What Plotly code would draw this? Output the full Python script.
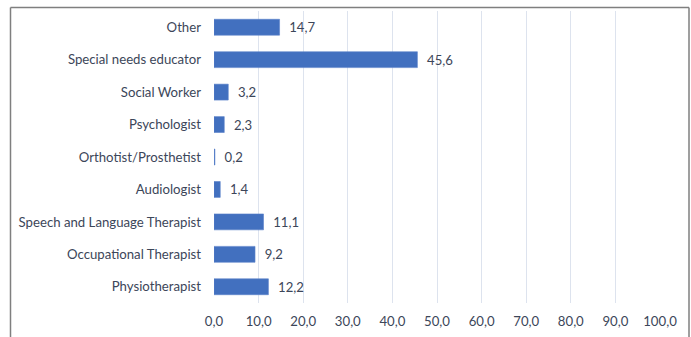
import plotly.graph_objects as go

categories = ["Other", "Special needs educator", "Social Worker", "Psychologist",
              "Orthotist/Prosthetist", "Audiologist", "Speech and Language Therapist",
              "Occupational Therapist", "Physiotherapist"]
values = [14.7, 45.6, 3.2, 2.3, 0.2, 1.4, 11.1, 9.2, 12.2]
x_ticks = [0, 10, 20, 30, 40, 50, 60, 70, 80, 90, 100]

W, H = 691, 337
ml, mr, mt, mb = 214, 31, 11, 34
pw = W - ml - mr
ph = H - mt - mb

txt = "#3c4659"
fs = 13.2
fig = go.Figure(go.Bar(
    x=values, y=categories, orientation="h",
    marker=dict(color="#4270bf", line=dict(color="#5b82c9", width=0.6)),
    width=0.49,
    texttemplate="\u00a0\u00a0%{x:.1f}", textposition="outside",
    textfont=dict(family="Lato", size=fs, color=txt),
    cliponaxis=False,
))

def px_x(p):
    return (p - ml) / pw

def px_y(p):
    return (H - mb - p) / ph

frame = "#7f7f7f"
shapes = [
    dict(type="line", xref="paper", yref="paper", x0=px_x(10.5), x1=px_x(10.5),
         y0=px_y(7.5), y1=px_y(H + 5), line=dict(color=frame, width=1.5)),
    dict(type="line", xref="paper", yref="paper", x0=px_x(689), x1=px_x(689),
         y0=px_y(7.5), y1=px_y(H + 5), line=dict(color=frame, width=1.5)),
    dict(type="line", xref="paper", yref="paper", x0=px_x(10.5), x1=px_x(689),
         y0=px_y(7.5), y1=px_y(7.5), line=dict(color=frame, width=1.5)),
]

fig.update_layout(
    width=W, height=H,
    margin=dict(l=ml, r=mr, t=mt, b=mb, autoexpand=False),
    paper_bgcolor="white", plot_bgcolor="white",
    separators=",.",
    showlegend=False,
    shapes=shapes,
    font=dict(family="Lato", size=fs, color=txt),
    xaxis=dict(range=[0, 100], tickvals=x_ticks, tickformat=".1f",
               showgrid=True, gridcolor="#dde3ee", gridwidth=1,
               zeroline=False, showline=False, ticks="",
               ticklabelstandoff=9, automargin=False,
               tickfont=dict(family="Lato", size=fs, color=txt)),
    yaxis=dict(autorange="reversed", showgrid=False, zeroline=False,
               showline=False, ticks="", ticklabelstandoff=12, automargin=False,
               tickfont=dict(family="Lato", size=fs, color=txt)),
)

fig.write_html("out.html", config={"displayModeBar": False},
               post_script="document.body.style.margin='0';document.body.style.overflow='hidden';")
